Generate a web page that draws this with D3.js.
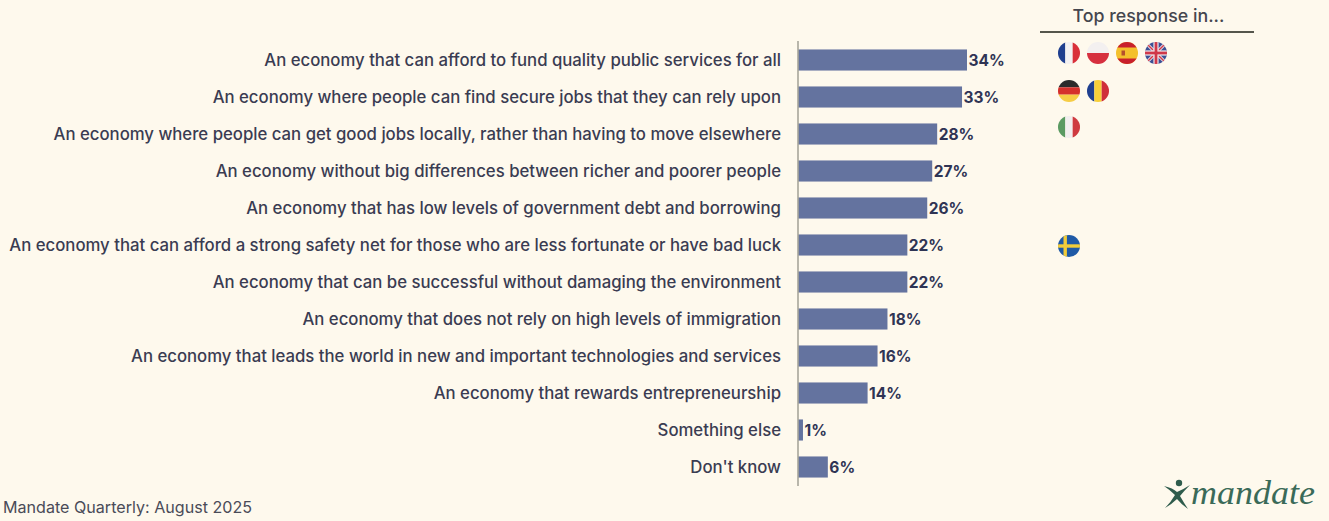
<!DOCTYPE html>
<html>
<head>
<meta charset="utf-8">
<script src="https://cdn.jsdelivr.net/npm/d3@7/dist/d3.min.js"></script>
<style>
html,body{margin:0;padding:0;background:#fef9ed;}
svg{display:block;}
text{font-family:Inter,"Noto Sans",sans-serif;}
</style>
</head>
<body>
<svg id="chart" width="1329" height="521"></svg>
<script>
const categories = [
  "An economy that can afford to fund quality public services for all",
  "An economy where people can find secure jobs that they can rely upon",
  "An economy where people can get good jobs locally, rather than having to move elsewhere",
  "An economy without big differences between richer and poorer people",
  "An economy that has low levels of government debt and borrowing",
  "An economy that can afford a strong safety net for those who are less fortunate or have bad luck",
  "An economy that can be successful without damaging the environment",
  "An economy that does not rely on high levels of immigration",
  "An economy that leads the world in new and important technologies and services",
  "An economy that rewards entrepreneurship",
  "Something else",
  "Don't know"
];
const shares = [34, 33, 28, 27, 26, 22, 22, 18, 16, 14, 1, 6];
const topResponseFlags = [
  ["fr", "pl", "es", "gb"],
  ["de", "ro"],
  ["it"],
  [], [],
  ["se"],
  [], [], [], [], [], []
];
const headerText = "Top response in...";
const sourceText = "Mandate Quarterly: August 2025";
const logoText = "mandate";

const ink = "#3a3c52", barInk = "#2f3454", barFill = "#64739f", axisInk = "#a8a69a";

const svg = d3.select("#chart");
const defs = svg.append("defs");

const x = d3.scaleLinear().domain([0, 34]).range([798, 967]);
const y = d3.scaleBand().domain(categories).range([41.5, 485.5]).paddingInner(0.43).paddingOuter(0.215);

// Bars
svg.append("g").selectAll("rect").data(categories).join("rect")
  .attr("x", x(0))
  .attr("y", d => y(d))
  .attr("width", (d, i) => x(shares[i]) - x(0))
  .attr("height", y.bandwidth())
  .attr("fill", barFill);

// Category axis: vertical rule plus right-aligned labels
const axis = svg.append("g").attr("transform", `translate(${x(0)},0)`)
  .call(d3.axisLeft(y).tickSize(0).tickPadding(17));
axis.select(".domain").attr("stroke", axisInk).attr("stroke-width", 1.6).attr("d", "M0,41V486");
axis.selectAll("text")
  .attr("fill", ink)
  .attr("font-size", 16.74)
  .attr("font-weight", 500)
  .attr("dy", "0.38em")
  .style("font-family", 'Inter,"Noto Sans",sans-serif');

// Value labels
svg.append("g").selectAll("text").data(categories).join("text")
  .attr("x", (d, i) => x(shares[i]) + 1.5)
  .attr("y", d => y(d) + y.bandwidth() / 2 + 0.6)
  .attr("dy", "0.35em")
  .attr("fill", barInk)
  .attr("font-size", 15.5)
  .attr("font-weight", 700)
  .text((d, i) => shares[i] + "%");

// Side column header
svg.append("text").attr("x", 1148.5).attr("y", 22)
  .attr("text-anchor", "middle").attr("fill", "#45464e")
  .attr("font-size", 17.8).attr("font-weight", 500).text(headerText);
svg.append("line").attr("x1", 1040).attr("x2", 1254).attr("y1", 32).attr("y2", 32)
  .attr("stroke", "#55564c").attr("stroke-width", 2);

// Flags are painted in a 22-unit box centred on the origin and clipped to a disc
const flagRadius = 11;
defs.append("clipPath").attr("id", "disc").append("circle").attr("r", flagRadius);
const stripes = (g, cols, vertical) => cols.forEach((c, i) => {
  const s = 22 / cols.length;
  g.append("rect")
    .attr("x", vertical ? -11 + i * s : -11)
    .attr("y", vertical ? -11 : -11 + i * s)
    .attr("width", vertical ? s : 22)
    .attr("height", vertical ? 22 : s)
    .attr("fill", c);
});
const bar = (g, x0, y0, w, h, c) => g.append("rect").attr("x", x0).attr("y", y0).attr("width", w).attr("height", h).attr("fill", c);
const painters = {
  fr: g => stripes(g, ["#1f3f8f", "#f3f1f2", "#d9303a"], true),
  pl: g => stripes(g, ["#f3f0f0", "#d6303f"], false),
  es: g => {
    bar(g, -11, -11, 22, 22, "#f4c02c");
    bar(g, -11, -11, 22, 5.5, "#c8202c");
    bar(g, -11, 5.5, 22, 5.5, "#c8202c");
    bar(g, -5.5, -2.5, 3.5, 5, "#b5502c");
  },
  gb: g => {
    bar(g, -11, -11, 22, 22, "#3c4f94");
    [45, -45].forEach(a => {
      bar(g, -15, -1.6, 30, 3.2, "#ece6ea").attr("transform", `rotate(${a})`);
      bar(g, -15, -0.7, 30, 1.4, "#d0384a").attr("transform", `rotate(${a})`);
    });
    bar(g, -11, -2.6, 22, 5.2, "#f0ecee");
    bar(g, -2.6, -11, 5.2, 22, "#f0ecee");
    bar(g, -11, -1.4, 22, 2.8, "#d0384a");
    bar(g, -1.4, -11, 2.8, 22, "#d0384a");
  },
  de: g => stripes(g, ["#2b2b2b", "#d5302c", "#f6cd45"], false),
  ro: g => stripes(g, ["#1f3f8f", "#f7cf3a", "#cf2f3a"], true),
  it: g => stripes(g, ["#5b9a62", "#f2eeee", "#cf3a40"], true),
  se: g => {
    bar(g, -11, -11, 22, 22, "#1f5aa6");
    bar(g, -11, -1.7, 22, 3.4, "#f2cc3a");
    bar(g, -5.5, -11, 3.4, 22, "#f2cc3a");
  }
};
const flagX = d3.scalePoint().domain([0, 1, 2, 3]).range([1069, 1156]);
// The flag column sits slightly above the bars in its upper rows
const flagLift = [7, 6, 7, 0, 0, -1];
topResponseFlags.forEach((row, r) => row.forEach((code, c) => {
  const cy = y(categories[r]) + y.bandwidth() / 2 - flagLift[r];
  const g = svg.append("g")
    .attr("transform", `translate(${flagX(c)},${cy})`)
    .append("g").attr("clip-path", "url(#disc)");
  painters[code](g);
}));

// Source line
svg.append("text").attr("x", 3).attr("y", 512.6).attr("fill", "#4a4b58")
  .attr("font-size", 16.1).text(sourceText);

// Wordmark: running figure and name
const mark = svg.append("g").attr("transform", "translate(1178,495)").attr("fill", "#2f5c4c");
mark.append("circle").attr("cx", 1).attr("cy", -12).attr("r", 3.2);
mark.append("path")
  .attr("d", "M-14,-9 Q-5,-7 -1,-3 Q6,-6 12,-10 Q6,-4 2,1 Q6,8 10,14 Q3,9 -1,4 Q-6,9 -13,13 Q-7,7 -3,0 Q-8,-5 -14,-9Z");
svg.append("text").attr("x", 1191).attr("y", 504).attr("fill", "#3a6a58")
  .style("font-family", '"Liberation Serif",serif').attr("font-style", "italic")
  .attr("font-size", 34).attr("textLength", 124).attr("lengthAdjust", "spacingAndGlyphs").text(logoText);
</script>
</body>
</html>
